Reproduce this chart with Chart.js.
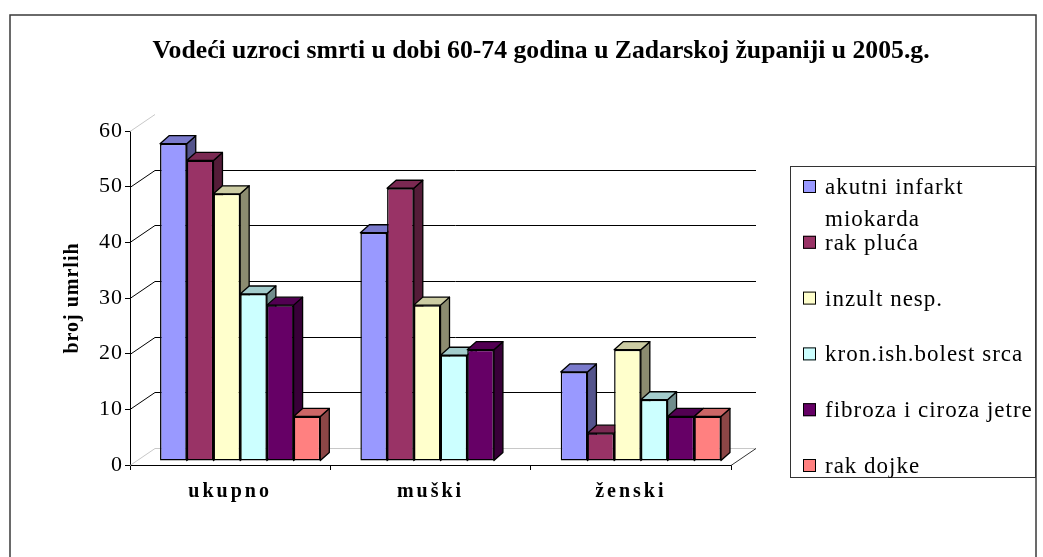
<!DOCTYPE html>
<html>
<head>
<meta charset="utf-8">
<script src="https://cdn.jsdelivr.net/npm/chart.js@4"></script>
<style>
  html, body { margin: 0; padding: 0; background: #fff; }
</style>
</head>
<body>
<canvas id="myChart" width="1043" height="557"></canvas>
<script>
const ctx = document.getElementById("myChart");

var arrLabels = ["ukupno", "muški", "ženski"];
var arrSeries = [
  "akutni infarkt miokarda",
  "rak pluća",
  "inzult nesp.",
  "kron.ish.bolest srca",
  "fibroza i ciroza jetre",
  "rak dojke",
];
// broj umrlih po uzroku: ukupno, muški, ženski
var akutniInfarkt = [57, 41, 16];
var rakPluca = [54, 49, 5];
var inzult = [48, 28, 20];
var kronIsh = [30, 19, 11];
var fibroza = [28, 20, 8];
var rakDojke = [8, 0, 8];
var arrTicks = [0, 10, 20, 30, 40, 50, 60];
var arrColors = ["#9999FF", "#993366", "#FFFFCC", "#CCFFFF", "#660066", "#FF8080"];

const serif = "'Liberation Serif', 'Times New Roman', serif";
var wallDepth = { x: 25, y: -17 };
var barShift = { x: 10, y: -4 };
var barDepth = { x: 9, y: -8 };

function shade(hex, f) {
  const n = parseInt(hex.slice(1), 16);
  const r = Math.round(((n >> 16) & 255) * f);
  const g = Math.round(((n >> 8) & 255) * f);
  const b = Math.round((n & 255) * f);
  return "rgb(" + r + "," + g + "," + b + ")";
}

function poly(c, pts, fill) {
  c.beginPath();
  c.moveTo(pts[0][0], pts[0][1]);
  for (let i = 1; i < pts.length; i++) c.lineTo(pts[i][0], pts[i][1]);
  c.closePath();
  c.fillStyle = fill;
  c.fill();
  c.stroke();
}

const data = {
  labels: arrLabels,
  datasets: [akutniInfarkt, rakPluca, inzult, kronIsh, fibroza, rakDojke].map(function (vals, i) {
    return {
      label: arrSeries[i],
      data: vals,
      backgroundColor: arrColors[i],
      borderColor: "#000",
      borderWidth: 1.5,
      borderSkipped: false,
      clip: false,
    };
  }),
};

const excel3d = {
  id: "excel3d",
  beforeDraw: function (chart) {
    chart.ctx.letterSpacing = "1px";
  },
  beforeDatasetsDraw: function (chart) {
    const c = chart.ctx;
    const a = chart.chartArea;
    const ys = chart.scales.y;
    c.save();
    c.lineWidth = 1;
    // left wall and back wall
    arrTicks.forEach(function (v) {
      const yv = Math.round(ys.getPixelForValue(v)) + 0.5;
      const light = v === 0 || v === 60;
      c.strokeStyle = light ? "#c8c8c8" : "#000";
      c.beginPath();
      c.moveTo(a.left, yv);
      c.lineTo(a.left + wallDepth.x, yv + wallDepth.y);
      if (v < 60) c.lineTo(a.right + wallDepth.x, yv + wallDepth.y);
      c.stroke();
    });
    c.strokeStyle = "#333";
    c.beginPath();
    c.moveTo(a.right, a.bottom + 0.5);
    c.lineTo(a.right + wallDepth.x, a.bottom + 0.5 + wallDepth.y);
    c.stroke();
    c.restore();

    // top and side faces, left to right
    c.save();
    c.translate(barShift.x, barShift.y);
    c.strokeStyle = "#000";
    c.lineWidth = 1.3;
    c.lineJoin = "round";
    const metas = chart.getSortedVisibleDatasetMetas();
    for (let i = 0; i < arrLabels.length; i++) {
      metas.forEach(function (meta) {
        const p = meta.data[i].getProps(["x", "y", "base", "width"], true);
        if (p.base - p.y < 0.5) return;
        const L = p.x - p.width / 2, R = p.x + p.width / 2;
        const col = arrColors[meta.index];
        poly(c, [[R, p.y], [R + barDepth.x, p.y + barDepth.y], [R + barDepth.x, p.base + barDepth.y], [R, p.base]], shade(col, 0.55));
        poly(c, [[L, p.y], [L + barDepth.x, p.y + barDepth.y], [R + barDepth.x, p.y + barDepth.y], [R, p.y]], shade(col, 0.8));
      });
    }
  },
  afterDatasetsDraw: function (chart) {
    chart.ctx.restore();
    chart.ctx.letterSpacing = "3px";
  },
  afterDraw: function (chart) {
    const c = chart.ctx;
    c.save();
    c.letterSpacing = "0px";
    c.fillStyle = "#000";

    // title
    c.font = "bold 25.7px " + serif;
    c.textAlign = "center";
    c.textBaseline = "alphabetic";
    c.fillText("Vodeći uzroci smrti u dobi 60-74 godina u Zadarskoj županiji u 2005.g.", 541, 58);

    // legend
    c.strokeStyle = "#333";
    c.lineWidth = 1;
    c.strokeRect(790.5, 166.5, 245, 311);
    c.font = "23px " + serif;
    c.letterSpacing = "1px";
    c.textAlign = "left";
    chart.data.datasets.forEach(function (ds, i) {
      const base = 194 + i * 55.8;
      c.fillStyle = ds.backgroundColor;
      c.fillRect(803, base - 14, 13, 13);
      c.strokeStyle = "#000";
      c.strokeRect(803.5, base - 13.5, 12, 12);
      c.fillStyle = "#000";
      const words = ds.label.split(" ");
      let line = "", lines = [];
      words.forEach(function (w) {
        const t = line ? line + " " + w : w;
        if (c.measureText(t).width > 222 && line) {
          lines.push(line);
          line = w;
        } else line = t;
      });
      lines.push(line);
      lines.forEach(function (t, k) {
        c.fillText(t, 825, base + k * 32);
      });
    });

    // outer frame
    c.strokeStyle = "#3a3a3a";
    c.lineWidth = 1.5;
    c.strokeRect(10, 15, 1026, 560);
    c.restore();
  },
};

new Chart(ctx, {
  type: "bar",
  data: data,
  options: {
    responsive: false,
    animation: false,
    layout: { padding: { left: 50, right: 312, top: 131, bottom: 52 } },
    datasets: { bar: { categoryPercentage: 0.8, barPercentage: 1.0 } },
    plugins: {
      legend: { display: false },
      tooltip: { enabled: false },
    },
    scales: {
      x: {
        grid: { drawOnChartArea: false, offset: true, tickLength: 5, color: "#000" },
        border: { color: "#000" },
        ticks: {
          z: 1,
          color: "#000",
          padding: 10,
          font: { family: serif, size: 20, weight: "bold" },
        },
        afterFit: function (scale) {
          scale.height = 40;
        },
      },
      y: {
        min: 0,
        max: 60,
        ticks: { stepSize: 10, color: "#000", padding: 2, font: { family: serif, size: 22 } },
        grid: { drawOnChartArea: false, tickLength: 5, color: "#000" },
        border: { color: "#000" },
        title: {
          display: true,
          text: "broj umrlih",
          color: "#000",
          padding: { top: 11, bottom: 0 },
          font: { family: serif, size: 20, weight: "bold" },
        },
        afterFit: function (scale) {
          scale.width = 80;
        },
      },
    },
  },
  plugins: [excel3d],
});
</script>
</body>
</html>
